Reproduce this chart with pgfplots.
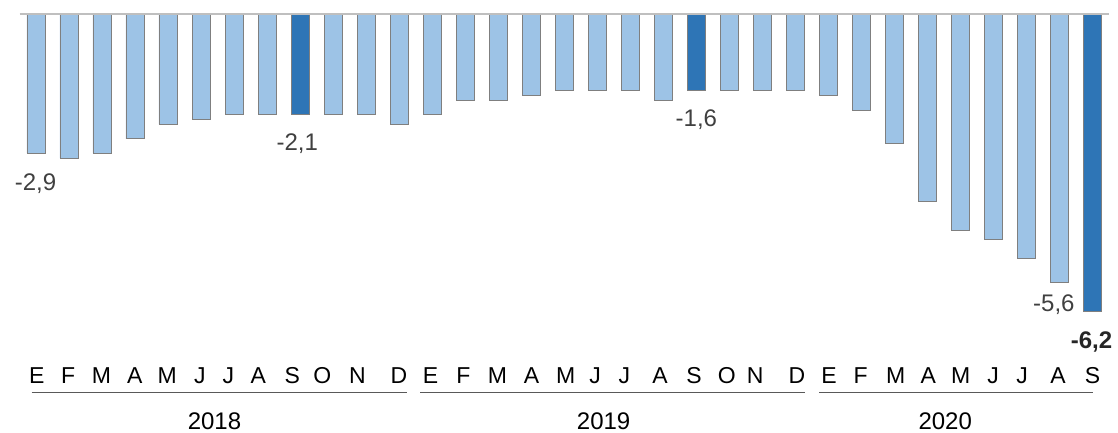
\documentclass[border=0pt]{standalone}
\usepackage{pgfplots}
\pgfplotsset{compat=1.18}
\usepackage{fontspec}
\setmainfont{Liberation Sans}
\definecolor{barlight}{HTML}{9DC3E6}
\definecolor{bardark}{HTML}{2E75B6}
\definecolor{barborder}{HTML}{7F7F7F}
\definecolor{zeroline}{HTML}{BFBFBF}
\definecolor{lbl}{HTML}{404040}
\definecolor{yearline}{HTML}{595959}
\begin{document}
\begin{tikzpicture}
\begin{axis}[
  scale only axis,
  width=1089.3pt, height=336pt,
  xmin=-0.5, xmax=32.5, ymin=-7, ymax=0,
  axis line style={draw=none},
  ytick=\empty,
  major tick length=0pt,
  xtick={0.015,0.97,1.98,2.99,3.97,4.96,5.82,6.73,7.76,8.67,9.73,10.99,
         11.95,12.94,13.97,15.01,16.04,16.93,17.82,18.9,19.93,20.92,21.78,23.05,
         24.02,24.98,26.04,27.03,28.01,28.99,29.87,30.96,32.0},
  xticklabels={E,F,M,A,M,J,J,A,S,O,N,D,E,F,M,A,M,J,J,A,S,O,N,D,E,F,M,A,M,J,J,A,S},
  xticklabel style={font=\fontsize{23}{27}\selectfont, text=black, anchor=base, yshift=-33.5pt, inner sep=0pt},
  clip=false,
]
\addplot[ybar, bar width=0.56, bar shift=0pt, fill=barlight, draw=barborder, line width=0.8pt]
  coordinates {(0,-2.9) (1,-3.0) (2,-2.9) (3,-2.6) (4,-2.3) (5,-2.2) (6,-2.1) (7,-2.1)
               (9,-2.1) (10,-2.1) (11,-2.3) (12,-2.1) (13,-1.8) (14,-1.8) (15,-1.7)
               (16,-1.6) (17,-1.6) (18,-1.6) (19,-1.8) (21,-1.6) (22,-1.6) (23,-1.6)
               (24,-1.7) (25,-2.0) (26,-2.7) (27,-3.9) (28,-4.5) (29,-4.7) (30,-5.1) (31,-5.6)};
\addplot[ybar, bar width=0.56, bar shift=0pt, fill=bardark, draw=barborder, line width=0.8pt]
  coordinates {(8,-2.1) (20,-1.6) (32,-6.2)};
\draw[zeroline, line width=1.3pt] (axis cs:-0.5,0) -- (axis cs:32.5,0);
% value labels
\begin{scope}[every node/.style={font=\fontsize{24}{28}\selectfont, text=lbl, anchor=base, inner sep=0pt}]
\node[yshift=-37pt, xshift=-0.7pt] at (axis cs:0,-2.9) {-2,9};
\node[yshift=-36pt, xshift=-3pt] at (axis cs:8,-2.1) {-2,1};
\node[yshift=-36pt] at (axis cs:20,-1.6) {-1,6};
\node[yshift=-29pt, xshift=-5.6pt] at (axis cs:31,-5.6) {-5,6};
\node[yshift=-36.5pt, xshift=-1pt, text=black!85] at (axis cs:32,-6.2) {\bfseries -6,2};
\end{scope}
% year underlines
\draw[yearline, line width=1.5pt] (axis cs:-0.14,-7.881) -- (axis cs:11.22,-7.881);
\draw[yearline, line width=1.5pt] (axis cs:11.63,-7.881) -- (axis cs:23.29,-7.881);
\draw[yearline, line width=1.5pt] (axis cs:23.72,-7.881) -- (axis cs:32.03,-7.881);
% years
\begin{scope}[every node/.style={font=\fontsize{24}{28}\selectfont, text=black, anchor=base, inner sep=0pt, text depth=0pt}]
\node at (axis cs:5.40,-8.646) {2018};
\node at (axis cs:17.19,-8.646) {2019};
\node at (axis cs:27.54,-8.646) {2020};
\end{scope}
\end{axis}
\pgfresetboundingbox
\path[use as bounding box] (-19.7pt,-82pt) rectangle (1098.3pt,350pt);
\end{tikzpicture}
\end{document}
